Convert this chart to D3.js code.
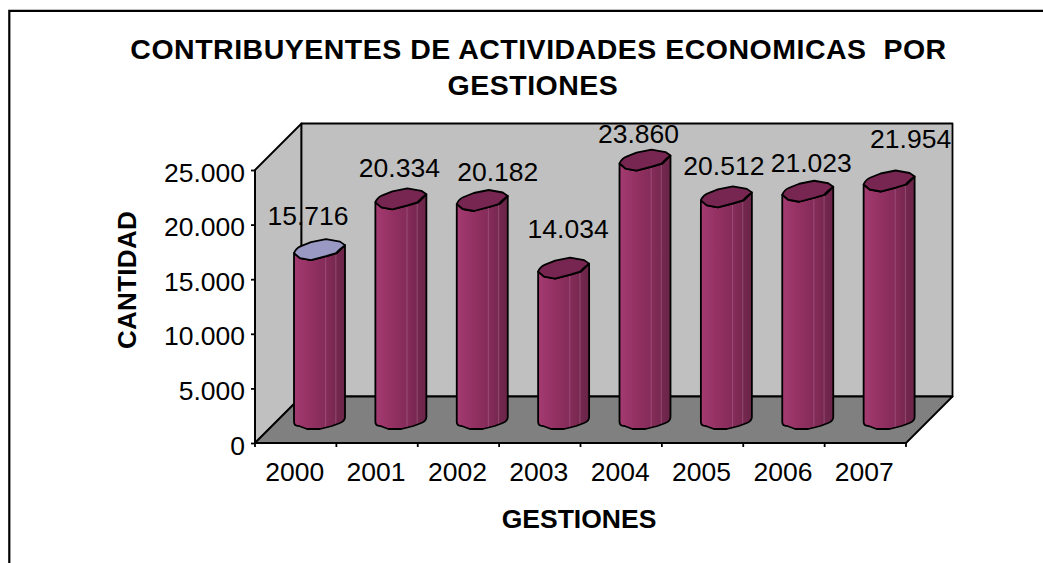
<!DOCTYPE html>
<html>
<head>
<meta charset="utf-8">
<script src="https://cdn.jsdelivr.net/npm/d3@7/dist/d3.min.js"></script>
<style>
html,body{margin:0;padding:0;background:#fff;overflow:hidden}
svg{display:block}
text{font-family:"Liberation Sans",Arial,sans-serif;fill:#000}
</style>
</head>
<body>
<svg id="c" width="1043" height="563"></svg>
<script>
const categories = ["2000","2001","2002","2003","2004","2005","2006","2007"];
const seriesValues = [15716,20334,20182,14034,23860,20512,21023,21954];
const valueLabels = ["15.716","20.334","20.182","14.034","23.860","20.512","21.023","21.954"];
const yTickValues = [0,5000,10000,15000,20000,25000];
const yTickLabels = ["0","5.000","10.000","15.000","20.000","25.000"];
const titleLines = ["CONTRIBUYENTES DE ACTIVIDADES ECONOMICAS\u00a0 POR","GESTIONES"];
// hand-placed data label offsets, relative to each cylinder
const labelDx = [14,24,41,30,19,23,29,47];
const labelDy = [-28,-25,-23,-34,-20.5,-25.4,-22.7,-36.5];

const svg = d3.select("#c");
const x = d3.scaleBand().domain(categories).range([255,906]);
const y = d3.scaleLinear().domain([0,25000]).range([443,170]);
const barY = d3.scaleLinear().domain([0,25000]).range([426,151]);
const dx = 46.5, dy = -46.5;

const stops = [[0,"#98336a"],[.03,"#a23a70"],[.3,"#953264"],[.42,"#8e2f5f"],[.6,"#852c5a"],[.62,"#9a4a75"],[.64,"#842c59"],[.8,"#782850"],[.82,"#8f4a70"],[.84,"#74274e"],[1,"#6a2448"]];
const defs = svg.append("defs");
const grad = defs.append("linearGradient").attr("id","barFill");
stops.forEach(s=>grad.append("stop").attr("offset",s[0]).attr("stop-color",s[1]));

// outer frame
svg.append("path").attr("d","M9.3,563V10.8H1043").attr("fill","none").attr("stroke","#000").attr("stroke-width",2.2);

const x0=x.range()[0], x1=x.range()[1], y0=y(0), yT=y(25000);
const stroke = s=>s.attr("stroke","#000").attr("stroke-width",1.8).attr("stroke-linejoin","round");
// walls and floor
stroke(svg.append("path").attr("d",`M${x0},${y0}V${yT}L${x0+dx},${yT+dy}V${y0+dy}Z`).attr("fill","#c0c0c0"));
stroke(svg.append("path").attr("d",`M${x0+dx},${yT+dy}H${x1+dx}V${y0+dy}H${x0+dx}Z`).attr("fill","#c0c0c0"));
stroke(svg.append("path").attr("d",`M${x0},${y0}L${x0+dx},${y0+dy}H${x1+dx}L${x1},${y0}Z`).attr("fill","#808080"));

// y axis
const yAxis = d3.axisLeft(y).tickValues(yTickValues).tickFormat((d,i)=>yTickLabels[i]).tickSize(4).tickPadding(6);
const gy = svg.append("g").attr("transform",`translate(${x0},0)`).call(yAxis);
gy.selectAll("text").attr("font-size",26.5).attr("dy","0.42em");
gy.selectAll("line,path").attr("stroke","#000").attr("stroke-width",1.8);
gy.select(".domain").attr("d",`M-0,${y0}V${yT}`);

// x axis
const xAxis = d3.axisBottom(x).tickSize(4).tickPadding(15);
const gx = svg.append("g").attr("transform",`translate(0,${y0})`).call(xAxis);
gx.selectAll(".tick line").attr("transform",`translate(${-x.step()/2},0)`);
gx.append("line").attr("x1",x1).attr("x2",x1).attr("y1",0).attr("y2",4).attr("stroke","#000").attr("stroke-width",1.8);
gx.selectAll("text").attr("font-size",26.5).attr("dx",-1);
gx.selectAll("line,path").attr("stroke","#000").attr("stroke-width",1.8);
gx.select(".domain").attr("d",`M${x0},0H${x1}`);

// cylinders
const bw = 51;
const barX = c=>x(c)+39;
seriesValues.forEach((v,i)=>{
  const c=categories[i], l=barX(c), t=barY(v), b=barY(0), r=l+bw;
  const g=svg.append("g");
  stroke(g.append("path").attr("fill","url(#barFill)")
    .attr("d",`M${l},${t}V${b-4}Q${l},${b} ${l+5},${b}L${l+13},${b+3}H${l+26}L${l+38},${b}L${l+46},${b-3}Q${r},${b-5} ${r},${b-9}V${t-8}`
      +`L${r-8},${t}L${r-18},${t+3}L${l+17},${t+7}L${l+6},${t+5}Z`));
  stroke(g.append("path").attr("fill",i===0?"#9999c4":"#762650")
    .attr("d",`M${l},${t}Q${l+2},${t-5} ${l+7},${t-7}L${l+17},${t-11}L${l+32},${t-14}L${l+46},${t-11.5}L${l+51},${t-8}L${l+46},${t-4}L${l+42},${t}L${l+32},${t+3}L${l+17},${t+7}L${l+6},${t+5}Z`));
  svg.append("text").attr("x",l+labelDx[i]).attr("y",t+labelDy[i]).attr("text-anchor","middle").attr("font-size",26.5).text(valueLabels[i]);
});

// titles
svg.selectAll("text.t").data(titleLines).join("text").attr("class","t")
  .attr("x",(d,i)=>i?533:538.5).attr("y",(d,i)=>58.5+i*36.5).attr("text-anchor","middle").attr("font-size",28.5).attr("letter-spacing",0.5).attr("font-weight","bold").text(d=>d);
svg.append("text").attr("x",579).attr("y",528).attr("text-anchor","middle").attr("font-size",26.5).attr("font-weight","bold").text("GESTIONES");
svg.append("text").attr("transform","translate(135.5,280) rotate(-90)").attr("text-anchor","middle").attr("font-size",26).attr("letter-spacing",0.3).attr("font-weight","bold").text("CANTIDAD");
</script>
</body>
</html>
